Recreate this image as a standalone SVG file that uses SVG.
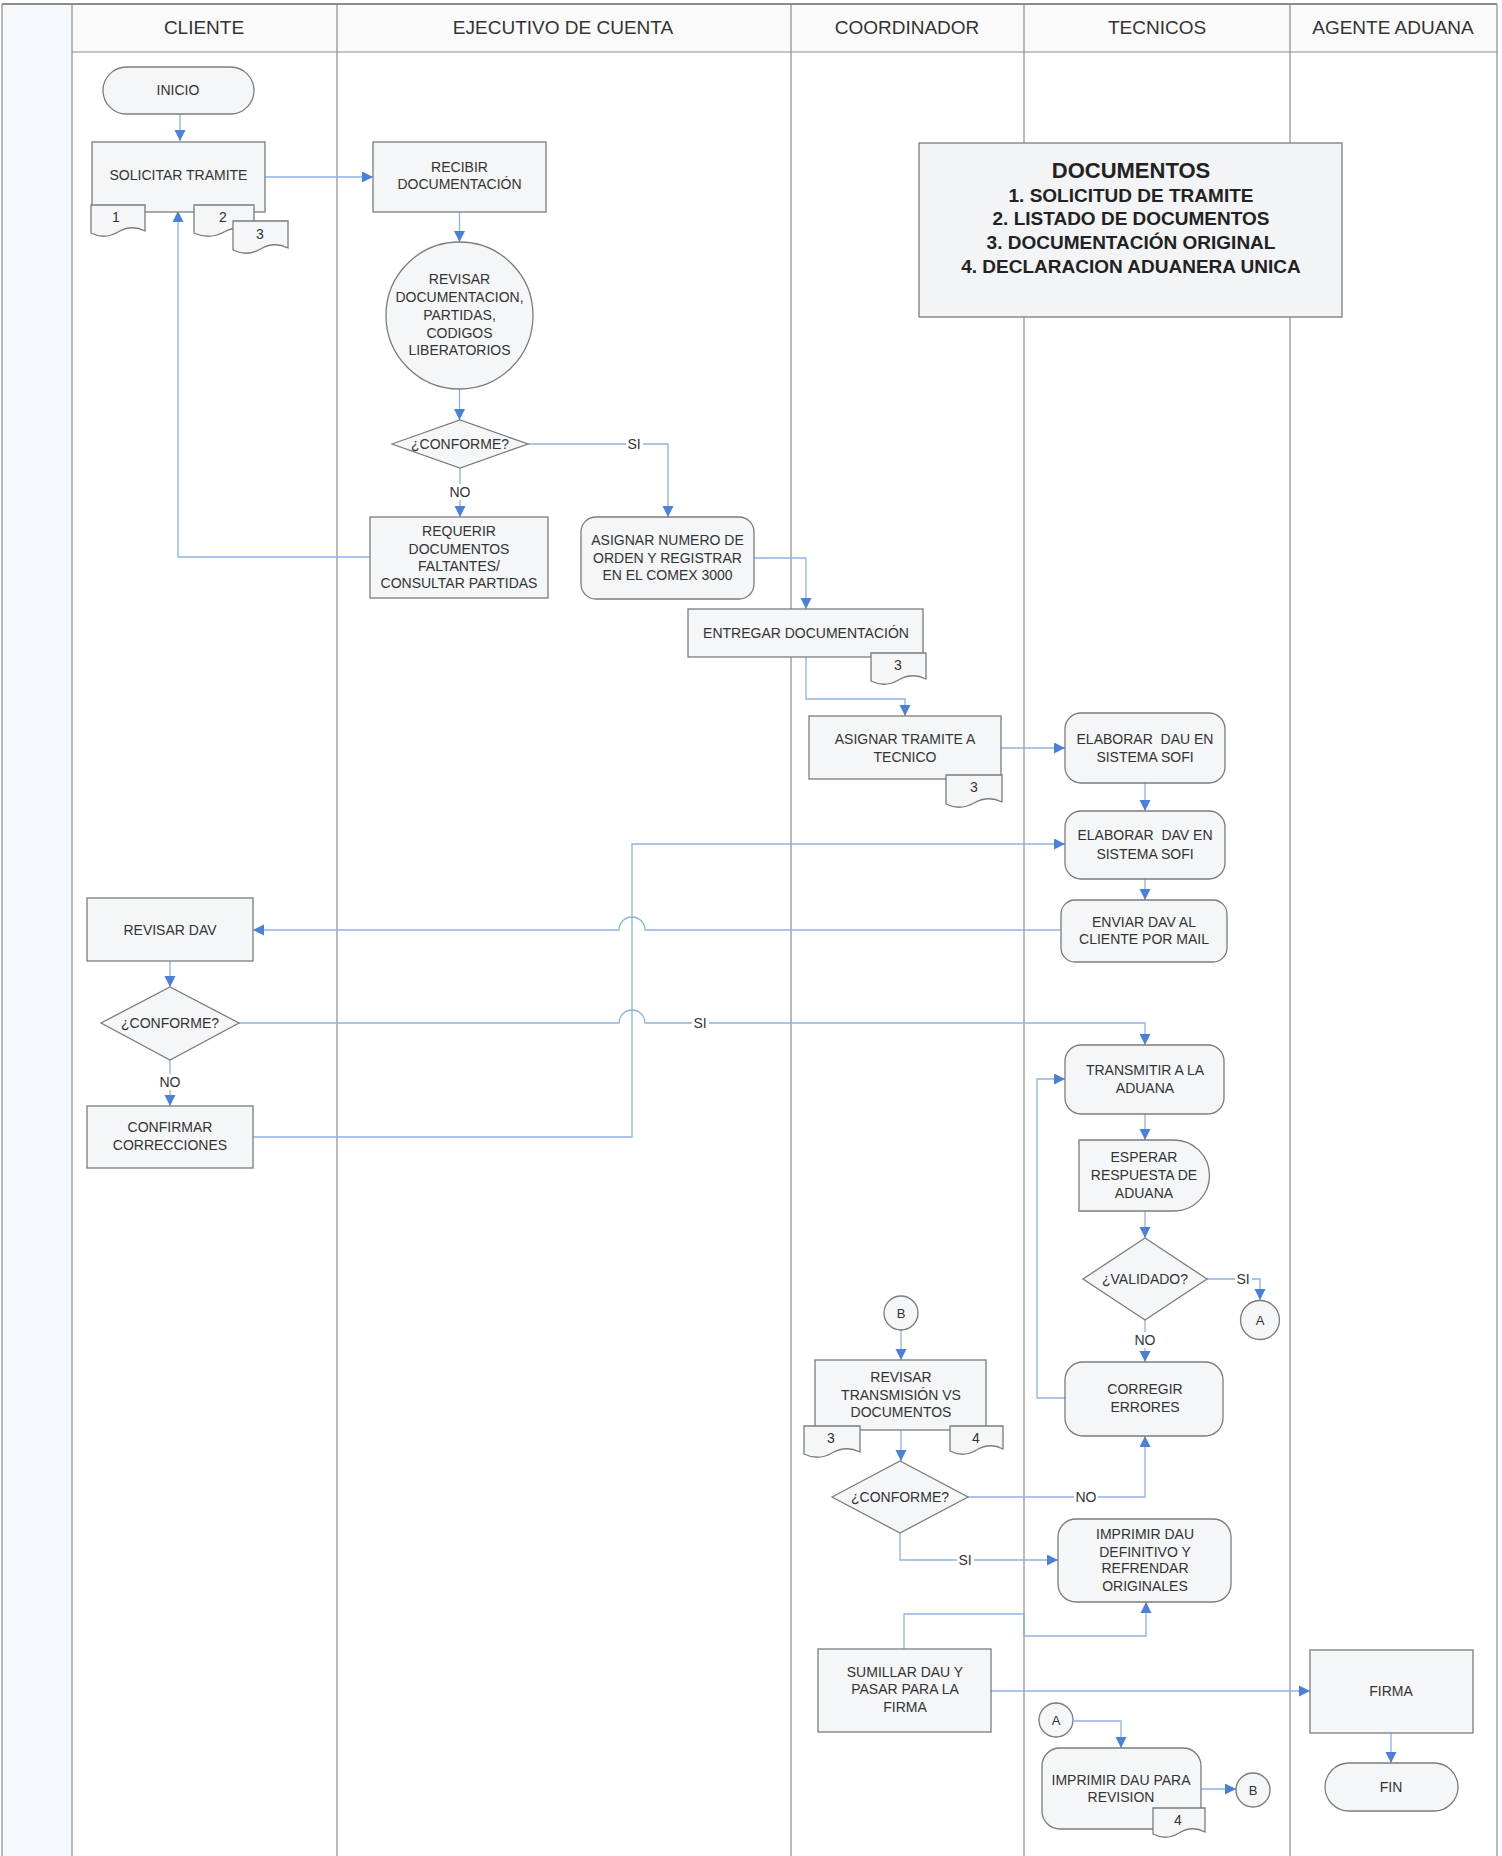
<svg xmlns="http://www.w3.org/2000/svg" width="1502" height="1856" viewBox="0 0 1502 1856">
<defs>
<style>
.lane{stroke:#8c8c8c;stroke-width:1.2;fill:none}
.box{fill:#f4f6f7;stroke:#7c7c7c;stroke-width:1.3}
.t{font-family:"Liberation Sans",Arial,sans-serif;font-size:14px;fill:#333;text-anchor:middle}
.h{font-family:"Liberation Sans",Arial,sans-serif;font-size:19px;fill:#333;text-anchor:middle}
.b{font-family:"Liberation Sans",Arial,sans-serif;font-weight:bold;font-size:19px;fill:#222;text-anchor:middle}
.e{stroke:#8db2e2;stroke-width:1.3;fill:none}
.ea{stroke:#8db2e2;stroke-width:1.3;fill:none;marker-end:url(#arr)}
.lbl{fill:#fff}
</style>
<marker id="arr" markerUnits="userSpaceOnUse" markerWidth="12" markerHeight="12" refX="11" refY="5.5" orient="auto">
<path d="M0,0 L11,5.5 L0,11 Z" fill="#4a80d8"/>
</marker>
</defs>
<rect x="0" y="0" width="1502" height="1856" fill="#ffffff"/>
<g id="lanes">
<rect x="2" y="4" width="70" height="1852" fill="#f5f9fb"/>
<rect x="72" y="4" width="1425" height="48" fill="#fafafa"/>
<line class="lane" x1="2" y1="4" x2="1497" y2="4" style="stroke-width:2"/>
<line class="lane" x1="72" y1="52" x2="1497" y2="52"/>
<line class="lane" x1="2" y1="4" x2="2" y2="1856"/>
<line class="lane" x1="72" y1="4" x2="72" y2="1856"/>
<line class="lane" x1="337" y1="4" x2="337" y2="1856"/>
<line class="lane" x1="791" y1="4" x2="791" y2="1856"/>
<line class="lane" x1="1024" y1="4" x2="1024" y2="1856"/>
<line class="lane" x1="1290" y1="4" x2="1290" y2="1856"/>
<line class="lane" x1="1497" y1="4" x2="1497" y2="1856"/>
<text class="h" x="204" y="34">CLIENTE</text>
<text class="h" x="563" y="34">EJECUTIVO DE CUENTA</text>
<text class="h" x="907" y="34">COORDINADOR</text>
<text class="h" x="1157" y="34">TECNICOS</text>
<text class="h" x="1393" y="34">AGENTE ADUANA</text>
</g>
<g id="connectors">
<path class="ea" d="M180 114 V141"/>
<path class="ea" d="M265 177 H373"/>
<path class="ea" d="M459.5 212 V242"/>
<path class="ea" d="M459.5 389 V420"/>
<path class="ea" d="M528 444 H668 V517"/>
<path class="ea" d="M460 468 V517"/>
<path class="ea" d="M370 557 H178 V211"/>
<path class="ea" d="M754 558 H806 V609"/>
<path class="ea" d="M806 657 V699 H905 V716"/>
<path class="ea" d="M1001 748 H1065"/>
<path class="ea" d="M1145 783 V811"/>
<path class="ea" d="M1145 879 V900"/>
<path class="ea" d="M1061 930 H645 A13 13 0 0 0 619 930 H253"/>
<path class="ea" d="M170 961 V987"/>
<path class="ea" d="M239 1023 H619 A13 13 0 0 1 645 1023 H1145 V1045"/>
<path class="ea" d="M170 1060 V1106"/>
<path class="ea" d="M253 1137 H632 V844 H1065"/>
<path class="ea" d="M1145 1114 V1140"/>
<path class="ea" d="M1145 1211 V1238"/>
<path class="ea" d="M1207 1279 H1260 V1300"/>
<path class="ea" d="M1145 1320 V1362"/>
<path class="ea" d="M1065 1398 H1037 V1079 H1065"/>
<path class="ea" d="M901 1330 V1360"/>
<path class="ea" d="M901 1430 V1461"/>
<path class="ea" d="M968 1497 H1145 V1436"/>
<path class="ea" d="M900 1533 V1560 H1058"/>
<path class="ea" d="M904 1649 V1614 H1024 V1636 H1146 V1602"/>
<path class="ea" d="M991 1691 H1310"/>
<path class="ea" d="M1391 1733 V1763"/>
<path class="ea" d="M1074 1721 H1121 V1748"/>
<path class="ea" d="M1201 1789 H1236"/>
<rect class="lbl" x="626" y="436" width="17" height="16"/><text class="t" x="634" y="449">SI</text>
<rect class="lbl" x="448" y="484" width="24" height="16"/><text class="t" x="460" y="497">NO</text>
<rect class="lbl" x="692" y="1015" width="17" height="16"/><text class="t" x="700" y="1028">SI</text>
<rect class="lbl" x="158" y="1074" width="24" height="16"/><text class="t" x="170" y="1087">NO</text>
<rect class="lbl" x="1235" y="1271" width="17" height="16"/><text class="t" x="1243" y="1284">SI</text>
<rect class="lbl" x="1133" y="1332" width="24" height="16"/><text class="t" x="1145" y="1345">NO</text>
<rect class="lbl" x="1074" y="1489" width="24" height="16"/><text class="t" x="1086" y="1502">NO</text>
<rect class="lbl" x="957" y="1552" width="17" height="16"/><text class="t" x="965" y="1565">SI</text>
</g>
<g id="inicio"><rect class="box" x="103" y="67" width="151" height="47" rx="23.5"/><text class="t" x="178" y="95">INICIO</text></g>
<g id="solicitar"><rect class="box" x="92" y="142" width="173" height="70"/><text class="t" x="178.5" y="180">SOLICITAR TRAMITE</text>
<path class="box" d="M91 205 H145 V231 Q131.5 224 118 232 T91 233 Z"/><text class="t" x="116" y="222">1</text>
<path class="box" d="M194 205 H254 V231 Q239 224 224 232 T194 233 Z"/><text class="t" x="223" y="222">2</text>
<path class="box" d="M233 221 H288 V248 Q274 241 260.5 249 T233 250 Z"/><text class="t" x="260" y="239">3</text>
</g>
<g id="recibir"><rect class="box" x="373" y="142" width="173" height="70"/><text class="t" x="459.5" y="172">RECIBIR</text><text class="t" x="459.5" y="189">DOCUMENTACIÓN</text></g>
<g id="revisar-doc"><circle class="box" cx="459.5" cy="315.5" r="73.5"/>
<text class="t" x="459.5" y="284">REVISAR</text><text class="t" x="459.5" y="302">DOCUMENTACION,</text><text class="t" x="459.5" y="320">PARTIDAS,</text><text class="t" x="459.5" y="338">CODIGOS</text><text class="t" x="459.5" y="355">LIBERATORIOS</text></g>
<g id="conforme1"><path class="box" d="M392 444 L460 420 L528 444 L460 468 Z"/><text class="t" x="460" y="449">¿CONFORME?</text></g>
<g id="requerir"><rect class="box" x="370" y="517" width="178" height="81"/>
<text class="t" x="459" y="536">REQUERIR</text><text class="t" x="459" y="554">DOCUMENTOS</text><text class="t" x="459" y="571">FALTANTES/</text><text class="t" x="459" y="588">CONSULTAR PARTIDAS</text></g>
<g id="asignar-numero"><rect class="box" x="581" y="517" width="173" height="82" rx="15"/>
<text class="t" x="667.5" y="545">ASIGNAR NUMERO DE</text><text class="t" x="667.5" y="563">ORDEN Y REGISTRAR</text><text class="t" x="667.5" y="580">EN EL COMEX 3000</text></g>
<g id="entregar"><rect class="box" x="688" y="609" width="235" height="48"/><text class="t" x="806" y="638">ENTREGAR DOCUMENTACIÓN</text>
<path class="box" d="M871 653 H926 V679 Q912 672 898.5 680 T871 681 Z"/><text class="t" x="898" y="670">3</text></g>
<g id="asignar-tramite"><rect class="box" x="809" y="716" width="192" height="63"/><text class="t" x="905" y="744">ASIGNAR TRAMITE A</text><text class="t" x="905" y="762">TECNICO</text>
<path class="box" d="M946 775 H1002 V802 Q988 795 974 803 T946 804 Z"/><text class="t" x="974" y="792">3</text></g>
<g id="elaborar-dau"><rect class="box" x="1065" y="713" width="160" height="70" rx="16"/><text class="t" x="1145" y="744" xml:space="preserve">ELABORAR  DAU EN</text><text class="t" x="1145" y="762">SISTEMA SOFI</text></g>
<g id="elaborar-dav"><rect class="box" x="1065" y="811" width="160" height="68" rx="16"/><text class="t" x="1145" y="840" xml:space="preserve">ELABORAR  DAV EN</text><text class="t" x="1145" y="859">SISTEMA SOFI</text></g>
<g id="enviar-dav"><rect class="box" x="1061" y="900" width="166" height="62" rx="14"/><text class="t" x="1144" y="927">ENVIAR DAV AL</text><text class="t" x="1144" y="944">CLIENTE POR MAIL</text></g>
<g id="revisar-dav"><rect class="box" x="87" y="898" width="166" height="63"/><text class="t" x="170" y="935">REVISAR DAV</text></g>
<g id="conforme2"><path class="box" d="M101 1023 L170 987 L239 1023 L170 1060 Z"/><text class="t" x="170" y="1028">¿CONFORME?</text></g>
<g id="confirmar"><rect class="box" x="87" y="1106" width="166" height="62"/><text class="t" x="170" y="1132">CONFIRMAR</text><text class="t" x="170" y="1150">CORRECCIONES</text></g>
<g id="transmitir"><rect class="box" x="1065" y="1045" width="159" height="69" rx="16"/><text class="t" x="1145" y="1075">TRANSMITIR A LA</text><text class="t" x="1145" y="1093">ADUANA</text></g>
<g id="esperar"><path class="box" d="M1079 1140 H1174 A35.5 35.5 0 0 1 1174 1211 H1079 Z"/><text class="t" x="1144" y="1162">ESPERAR</text><text class="t" x="1144" y="1180">RESPUESTA DE</text><text class="t" x="1144" y="1198">ADUANA</text></g>
<g id="validado"><path class="box" d="M1083 1279 L1145 1238 L1207 1279 L1145 1320 Z"/><text class="t" x="1145" y="1284">¿VALIDADO?</text></g>
<g id="conector-a1"><circle class="box" cx="1260" cy="1320" r="19.5"/><text class="t" x="1260" y="1325" style="font-size:13px">A</text></g>
<g id="corregir"><rect class="box" x="1065" y="1362" width="158" height="74" rx="18"/><text class="t" x="1145" y="1394">CORREGIR</text><text class="t" x="1145" y="1412">ERRORES</text></g>
<g id="conector-b1"><circle class="box" cx="901" cy="1313" r="17"/><text class="t" x="901" y="1318" style="font-size:13px">B</text></g>
<g id="revisar-transmision"><rect class="box" x="815" y="1360" width="171" height="70"/>
<text class="t" x="901" y="1382">REVISAR</text><text class="t" x="901" y="1400">TRANSMISIÓN VS</text><text class="t" x="901" y="1417">DOCUMENTOS</text>
<path class="box" d="M804 1426 H860 V1452 Q846 1445 832 1453 T804 1454 Z"/><text class="t" x="831" y="1443">3</text>
<path class="box" d="M950 1426 H1003 V1449 Q990 1442 976.5 1450 T950 1451 Z"/><text class="t" x="976" y="1443">4</text></g>
<g id="conforme3"><path class="box" d="M832 1497 L900 1461 L968 1497 L900 1533 Z"/><text class="t" x="900" y="1502">¿CONFORME?</text></g>
<g id="imprimir-definitivo"><rect class="box" x="1058" y="1519" width="173" height="83" rx="18"/>
<text class="t" x="1145" y="1539">IMPRIMIR DAU</text><text class="t" x="1145" y="1557">DEFINITIVO Y</text><text class="t" x="1145" y="1573">REFRENDAR</text><text class="t" x="1145" y="1591">ORIGINALES</text></g>
<g id="sumillar"><rect class="box" x="818" y="1649" width="173" height="83"/>
<text class="t" x="905" y="1677">SUMILLAR DAU Y</text><text class="t" x="905" y="1694">PASAR PARA LA</text><text class="t" x="905" y="1712">FIRMA</text></g>
<g id="firma"><rect class="box" x="1310" y="1650" width="163" height="83"/><text class="t" x="1391" y="1696">FIRMA</text></g>
<g id="fin"><rect class="box" x="1325" y="1763" width="133" height="48" rx="24"/><text class="t" x="1391" y="1792">FIN</text></g>
<g id="conector-a2"><circle class="box" cx="1056" cy="1720" r="17"/><text class="t" x="1056" y="1725" style="font-size:13px">A</text></g>
<g id="imprimir-revision"><rect class="box" x="1042" y="1748" width="159" height="81" rx="18"/>
<text class="t" x="1121" y="1785">IMPRIMIR DAU PARA</text><text class="t" x="1121" y="1802">REVISION</text>
<path class="box" d="M1153 1808 H1205 V1832 Q1192 1825 1179 1833 T1153 1834 Z"/><text class="t" x="1178" y="1825">4</text></g>
<g id="conector-b2"><circle class="box" cx="1253" cy="1790" r="17"/><text class="t" x="1253" y="1795" style="font-size:13px">B</text></g>
<g id="documentos"><rect class="box" x="919" y="143" width="423" height="174" style="fill:#f2f4f5"/>
<text class="b" x="1131" y="178" style="font-size:22px">DOCUMENTOS</text>
<text class="b" x="1131" y="202">1. SOLICITUD DE TRAMITE</text>
<text class="b" x="1131" y="225">2. LISTADO DE DOCUMENTOS</text>
<text class="b" x="1131" y="249">3. DOCUMENTACIÓN ORIGINAL</text>
<text class="b" x="1131" y="273">4. DECLARACION ADUANERA UNICA</text></g>
</svg>
